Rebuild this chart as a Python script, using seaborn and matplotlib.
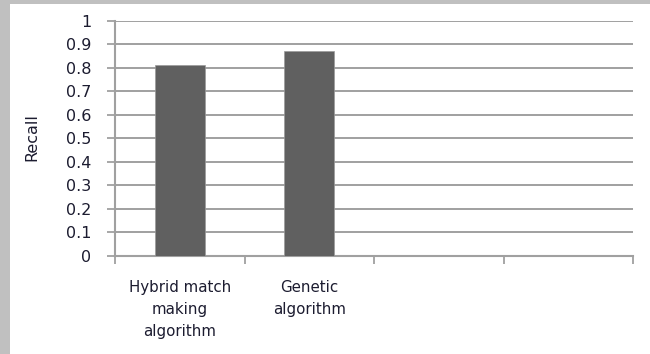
import matplotlib
matplotlib.use("Agg")
import matplotlib.pyplot as plt
import matplotlib.patches as mpatches
import seaborn as sns
import pandas as pd

# Recall of each approach; the last two category slots are left empty
methods = ["Hybrid match\nmaking\nalgorithm", "Genetic\nalgorithm"]
recall = [0.81, 0.87]
slots = methods + ["slot3", "slot4"]
slot_labels = methods + ["", ""]
y_ticks = [0, 0.1, 0.2, 0.3, 0.4, 0.5, 0.6, 0.7, 0.8, 0.9, 1]
y_tick_labels = ["0", "0.1", "0.2", "0.3", "0.4", "0.5", "0.6", "0.7", "0.8", "0.9", "1"]

sns.set_style("white")
plt.rcParams["font.family"] = ["DejaVu Sans"]

text_color = "#1c1c30"
grid_color = "#a0a0a0"

fig = plt.figure(figsize=(6.5, 3.54), dpi=100)
fig.patch.set_facecolor("#c0c0c0")
# white chart panel inside the grey frame
fig.add_artist(mpatches.Rectangle((10 / 650, 0), 1, 350 / 354,
                                  transform=fig.transFigure,
                                  facecolor="white", edgecolor="none", zorder=0))

ax = fig.add_axes([115 / 650, 98 / 354, 518 / 650, 235.3 / 354])
ax.set_facecolor("none")

df = pd.DataFrame({"method": methods, "recall": recall})
sns.barplot(data=df, x="method", y="recall", order=slots, color="#606060",
            width=0.386, saturation=1, ax=ax, zorder=3,
            edgecolor="#9a9a9a", linewidth=0.5)

ax.set_xlim(-0.5, 3.5)
ax.set_ylim(0, 1)

# horizontal gridlines at each tick
ax.set_yticks(y_ticks)
ax.set_yticklabels(y_tick_labels, fontsize=11.5, color=text_color)
ax.yaxis.grid(True, color=grid_color, linewidth=1.4, zorder=1)
ax.set_axisbelow(True)
ax.tick_params(axis="y", direction="out", length=6, width=1.3,
               color=grid_color, pad=11, left=True)

# category labels centred, tick marks at category boundaries
ax.set_xticks(range(len(slots)))
ax.set_xticklabels(slot_labels, fontsize=10.8, color=text_color, linespacing=1.62)
ax.tick_params(axis="x", which="major", length=0, pad=17)
ax.set_xticks([-0.5, 0.5, 1.5, 2.5, 3.5], minor=True)
ax.tick_params(axis="x", which="minor", direction="out", length=6, width=1.3,
               color=grid_color, bottom=True)

for side in ["top", "right"]:
    ax.spines[side].set_visible(False)
for side in ["left", "bottom"]:
    ax.spines[side].set_color(grid_color)
    ax.spines[side].set_linewidth(1.5)

ax.set_xlabel("")
ax.set_ylabel("")
fig.text(32 / 650, 1 - 137 / 354, "Recall", rotation=90, fontsize=11.5,
         color=text_color, ha="center", va="center")

fig.savefig("out.png", dpi=100, facecolor=fig.get_facecolor())
